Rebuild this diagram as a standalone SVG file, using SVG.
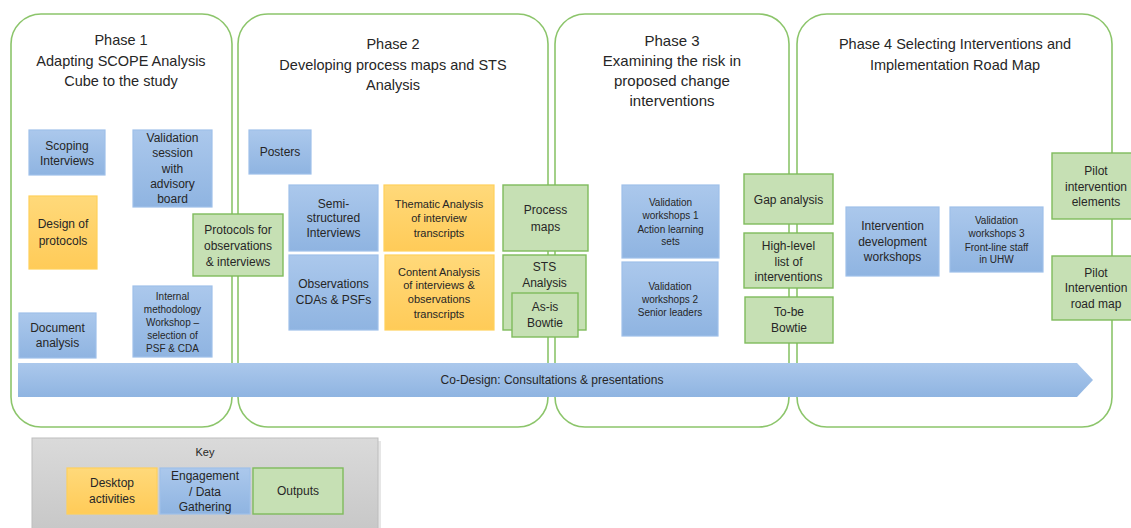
<svg xmlns="http://www.w3.org/2000/svg" width="1131" height="528" viewBox="0 0 1131 528">
<style>
text{font-family:"Liberation Sans",Arial,sans-serif;fill:#262626;text-anchor:middle}
.t{font-size:14.5px}
.m{font-size:12px}
.s{font-size:11px}
.x{font-size:10px}
.phase{fill:#fff;stroke:#8cc56b;stroke-width:1.6}
.blue{fill:url(#gb);stroke:#9fc0ea;stroke-width:1.2}
.orange{fill:url(#go);stroke:#ffd05a;stroke-width:1.2}
.green{fill:#c6e0b4;stroke:#7fbb5c;stroke-width:1.4}
</style>
<defs>
<linearGradient id="gb" x1="0" y1="0" x2="0" y2="1"><stop offset="0" stop-color="#abc8ec"/><stop offset="1" stop-color="#8fb4e1"/></linearGradient>
<linearGradient id="go" x1="0" y1="0" x2="0" y2="1"><stop offset="0" stop-color="#ffd97a"/><stop offset="1" stop-color="#ffcb58"/></linearGradient>
<linearGradient id="gk" x1="0" y1="0" x2="0" y2="1"><stop offset="0" stop-color="#dadada"/><stop offset="1" stop-color="#c6c6c6"/></linearGradient>
</defs>
<rect width="1131" height="528" fill="#fff"/>
<g id="phase1"><rect class="phase" x="11" y="14" width="221" height="413" rx="30"/>
<text class="t" x="121" y="45">Phase 1</text><text class="t" x="121" y="66">Adapting SCOPE Analysis</text><text class="t" x="121" y="86">Cube to the study</text></g>
<g id="phase2"><rect class="phase" x="238" y="14" width="310" height="413" rx="30"/>
<text class="t" x="393" y="49">Phase 2</text><text class="t" x="393" y="70">Developing process maps and STS</text><text class="t" x="393" y="90">Analysis</text></g>
<g id="phase3"><rect class="phase" x="555" y="14" width="234" height="413" rx="30"/>
<text class="t" x="672" y="46" style="font-size:15px">Phase 3</text><text class="t" x="672" y="66" style="font-size:15px">Examining the risk in</text><text class="t" x="672" y="86" style="font-size:15px">proposed change</text><text class="t" x="672" y="106" style="font-size:15px">interventions</text></g>
<g id="phase4"><rect class="phase" x="797" y="14" width="315" height="413" rx="30"/>
<text class="t" x="955" y="49">Phase 4 Selecting Interventions and</text><text class="t" x="955" y="70">Implementation Road Map</text></g>

<g id="codesign"><polygon points="18,363 1077,363 1093,380 1077,397 18,397" fill="url(#gb)"/>
<text class="m" x="552" y="384">Co-Design: Consultations &amp; presentations</text></g>

<g id="scoping"><rect class="blue" x="29" y="130" width="76" height="45"/><text class="m" x="67" y="150">Scoping</text><text class="m" x="67" y="165">Interviews</text></g>
<g id="validation-advisory"><rect class="blue" x="133" y="130" width="79" height="77"/><text class="m" x="172.5" y="142">Validation</text><text class="m" x="172.5" y="157">session</text><text class="m" x="172.5" y="173">with</text><text class="m" x="172.5" y="188">advisory</text><text class="m" x="172.5" y="203">board</text></g>
<g id="design-protocols"><rect class="orange" x="29" y="196" width="68" height="73"/><text class="m" x="63" y="228">Design of</text><text class="m" x="63" y="245">protocols</text></g>
<g id="document-analysis"><rect class="blue" x="19" y="313" width="77" height="45"/><text class="m" x="57.5" y="332">Document</text><text class="m" x="57.5" y="347">analysis</text></g>
<g id="internal-workshop"><rect class="blue" x="133" y="286" width="79" height="71"/><text class="x" x="172.5" y="300">Internal</text><text class="x" x="172.5" y="313">methodology</text><text class="x" x="172.5" y="326">Workshop –</text><text class="x" x="172.5" y="339">selection of</text><text class="x" x="172.5" y="352">PSF &amp; CDA</text></g>
<g id="protocols-output"><rect class="green" x="193" y="214" width="90" height="62"/><text class="m" x="238" y="234">Protocols for</text><text class="m" x="238" y="250">observations</text><text class="m" x="238" y="266">&amp; interviews</text></g>

<g id="posters"><rect class="blue" x="249" y="130" width="62" height="44"/><text class="m" x="280" y="156">Posters</text></g>
<g id="semi-structured"><rect class="blue" x="289" y="185" width="89" height="66"/><text class="m" x="333.5" y="208">Semi-</text><text class="m" x="333.5" y="222">structured</text><text class="m" x="333.5" y="237">Interviews</text></g>
<g id="observations"><rect class="blue" x="289" y="255" width="89" height="75"/><text class="m" x="333.5" y="288">Observations</text><text class="m" x="333.5" y="304">CDAs &amp; PSFs</text></g>
<g id="thematic"><rect class="orange" x="384" y="185" width="110" height="66"/><text class="s" x="439" y="208">Thematic Analysis</text><text class="s" x="439" y="222">of interview</text><text class="s" x="439" y="237">transcripts</text></g>
<g id="content"><rect class="orange" x="385" y="255" width="109" height="75"/><text class="s" x="439" y="276">Content Analysis</text><text class="s" x="439" y="289">of interviews &amp;</text><text class="s" x="439" y="303">observations</text><text class="s" x="439" y="318">transcripts</text></g>
<g id="process-maps"><rect class="green" x="503" y="185" width="85" height="66"/><text class="m" x="545.5" y="214">Process</text><text class="m" x="545.5" y="231">maps</text></g>
<g id="sts"><rect class="green" x="503" y="255" width="83" height="75"/><text class="m" x="544.5" y="271">STS</text><text class="m" x="544.5" y="287">Analysis</text></g>
<g id="as-is-bowtie"><rect class="green" x="512" y="293" width="66" height="44"/><text class="m" x="545" y="311">As-is</text><text class="m" x="545" y="327">Bowtie</text></g>

<g id="validation-1"><rect class="blue" x="622" y="185" width="97" height="73"/><text class="x" x="670.5" y="206">Validation</text><text class="x" x="670.5" y="219">workshops 1</text><text class="x" x="670.5" y="233">Action learning</text><text class="x" x="670.5" y="245">sets</text></g>
<g id="validation-2"><rect class="blue" x="622" y="262" width="96" height="74"/><text class="x" x="670" y="290">Validation</text><text class="x" x="670" y="303">workshops 2</text><text class="x" x="670" y="316">Senior leaders</text></g>
<g id="gap-analysis"><rect class="green" x="744" y="174" width="89" height="50"/><text class="m" x="788.5" y="204">Gap analysis</text></g>
<g id="high-level"><rect class="green" x="744" y="233" width="89" height="55"/><text class="m" x="788.5" y="250">High-level</text><text class="m" x="788.5" y="266">list of</text><text class="m" x="788.5" y="281">interventions</text></g>
<g id="to-be-bowtie"><rect class="green" x="745" y="297" width="88" height="46"/><text class="m" x="789" y="316">To-be</text><text class="m" x="789" y="332">Bowtie</text></g>

<g id="intervention-dev"><rect class="blue" x="846" y="207" width="93" height="69"/><text class="m" x="892.5" y="230">Intervention</text><text class="m" x="892.5" y="246">development</text><text class="m" x="892.5" y="261">workshops</text></g>
<g id="validation-3"><rect class="blue" x="950" y="207" width="93" height="65"/><text class="x" x="996.5" y="224">Validation</text><text class="x" x="996.5" y="237">workshops 3</text><text class="x" x="996.5" y="251">Front-line staff</text><text class="x" x="996.5" y="263">in UHW</text></g>
<g id="pilot-elements"><rect class="green" x="1052" y="153" width="88" height="66"/><text class="m" x="1096" y="175">Pilot</text><text class="m" x="1096" y="191">intervention</text><text class="m" x="1096" y="206">elements</text></g>
<g id="pilot-roadmap"><rect class="green" x="1052" y="256" width="88" height="64"/><text class="m" x="1096" y="277">Pilot</text><text class="m" x="1096" y="292">Intervention</text><text class="m" x="1096" y="308">road map</text></g>

<g id="key"><rect x="35" y="441" width="346" height="100" fill="#e6e6e6"/><rect x="32" y="438" width="346" height="100" fill="url(#gk)" stroke="#bdbdbd"/>
<text class="s" x="205" y="456">Key</text>
<rect class="orange" x="67" y="468" width="90" height="46"/><text class="m" x="112" y="487">Desktop</text><text class="m" x="112" y="503">activities</text>
<rect class="blue" x="160" y="468" width="90" height="46"/><text class="m" x="205" y="480">Engagement</text><text class="m" x="205" y="496">/ Data</text><text class="m" x="205" y="511">Gathering</text>
<rect class="green" x="253" y="468" width="90" height="46"/><text class="m" x="298" y="495">Outputs</text></g>
<g id="connectors"></g>
</svg>
